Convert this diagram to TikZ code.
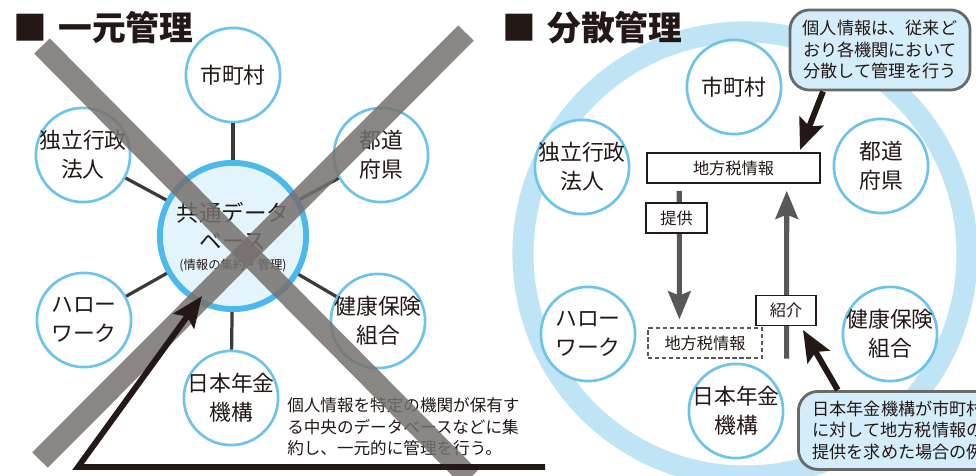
\documentclass[tikz,border=0pt]{standalone}
\usepackage{fontspec}
\setmainfont{Noto Sans CJK JP}
\usetikzlibrary{calc,positioning,arrows.meta}

\definecolor{inkblack}{RGB}{35,24,21}
\definecolor{ringblue}{RGB}{190,228,246}
\definecolor{edgeblue}{RGB}{108,195,236}
\definecolor{dbblue}{RGB}{75,185,235}
\definecolor{dbfill}{RGB}{228,244,252}
\definecolor{notefill}{RGB}{212,237,250}
\definecolor{notegray}{RGB}{105,105,105}
\definecolor{linkgray}{RGB}{58,58,58}
\definecolor{flowgray}{RGB}{88,88,88}
\definecolor{crossgray}{RGB}{118,113,110}

\begin{document}
\begin{tikzpicture}[x=0.025cm,y=-0.025cm,
	org/.style={circle,draw=edgeblue,line width=1.9pt,fill=white,minimum size=67pt,inner sep=0pt},
	orgtext/.style={align=center,inner sep=0pt,text=inkblack,font=\fontsize{15.5}{20.5}\selectfont},
	title/.style={anchor=west,inner sep=0pt,text=inkblack,font=\fontsize{24}{24}\selectfont\bfseries},
	link/.style={draw=linkgray,line width=2.3pt},
	cross/.style={draw=crossgray,line width=15.5pt,opacity=0.85},
	tagbox/.style={draw=inkblack,line width=1.1pt,fill=white,inner sep=0pt,minimum height=21.3pt,text=inkblack,font=\fontsize{11.5}{14}\selectfont},
	note/.style={draw=notegray,line width=2pt,fill=notefill,rounded corners=14pt,text=inkblack,font=\fontsize{12.2}{15.3}\selectfont},
	flow/.style={draw=flowgray,line width=3.6pt,-{Stealth[length=20pt,width=16pt,inset=3pt]}},
	pointer/.style={draw=inkblack,line width=4.2pt,line join=miter,-{Stealth[length=22pt,width=18pt,inset=4pt]}}]
	\useasboundingbox (0,0) rectangle (976,475);
	\clip (0,0) rectangle (976,475);

	% ----- left: one central database
	\node[title] (ltitle) at (13,28) {■\hspace{8pt}一元管理};
	\node[circle,draw=dbblue,line width=4.2pt,fill=dbfill,minimum size=104pt] (db) at (233,236) {};
	\foreach \nm/\px/\py/\txt in {shi/233/75/市町村, dok/83/155/{独立行政\\法人}, tdf/381/155/{都道\\府県},
		hlw/84/320/{ハロー\\ワーク}, kkh/378/321/{健康保険\\組合}, nnk/231/398/{日本年金\\機構}} {
		\node[org] (l\nm) at (\px,\py) {};
		\node[orgtext] (l\nm-t) at (l\nm) {\txt};
		\draw[link] (db) -- (l\nm);
	}
	\node[orgtext,font=\fontsize{16}{20}\selectfont] (db-t) at (233,226) {共通データ\\ベース};
	\node[orgtext,font=\fontsize{8.8}{10}\selectfont] (db-s) at (233,265) {(情報の集約・管理)};
	\node[anchor=west,align=left,inner sep=0pt,text=inkblack,font=\fontsize{11.8}{15.3}\selectfont] (lnote) at (287,427)
		{個人情報を特定の機関が保有す\\る中央のデータベースなどに集\\約し、一元的に管理を行う。};
	% big cross over the whole scheme
	\draw[cross] (42,46) -- (470,478);
	\draw[cross] (466,33) -- (40,460);
	\coordinate (corner) at (78,467);
	\coordinate (baseend) at (545,467);
	\coordinate (dbtip) at (202,296);
	\draw[pointer] (baseend) -- (corner) -- (dbtip);

	% ----- right: spread over the bodies
	\draw[draw=ringblue,line width=15pt] (745,254) circle (157.9pt);
	\node[title] (rtitle) at (502,28) {■\hspace{8pt}分散管理};
	\foreach \nm/\px/\py/\txt in {shi/734/87/市町村, dok/582/167/{独立行政\\法人}, tdf/881/166/{都道\\府県},
		hlw/588/334/{ハロー\\ワーク}, kkh/890/334/{健康保険\\組合}, nnk/736/411/{日本年金\\機構}} {
		\node[org] (r\nm) at (\px,\py) {};
		\node[orgtext] (r\nm-t) at (r\nm) {\txt};
	}
	\node[tagbox,minimum width=123pt] (info) at (733.5,168) {地方税情報};
	\node[tagbox,draw=flowgray,line width=0.9pt,densely dashed,minimum width=81pt] (infolow) at (705,343) {地方税情報};
	\draw[flow] ($(info.south west)+(33,7)$) -- ($(infolow.north west)+(32,-8)$);
	\draw[flow] ($(infolow.south east)+(24,0)$) -- ($(info.south east)+(-34,7)$);
	\node[tagbox,minimum width=43.4pt] (teikyo) at (676.5,218) {提供};
	\node[tagbox,minimum width=42.7pt] (shokai) at (786,310.5) {紹介};

	\node[note,align=center,minimum width=128pt,minimum height=57pt] (notetop) at (880,50)
		{個人情報は、従来ど\\おり各機関において\\分散して管理を行う};
	\node[note,anchor=north west,align=left,inner xsep=10pt,minimum height=55.5pt] (notebot) at (797,390)
		{日本年金機構が市町村\\に対して地方税情報の\\提供を求めた場合の例};
	\coordinate (tiptop) at (800,150);
	\coordinate (tipbot) at (803,330);
	\draw[pointer] ([xshift=-40.5pt]notetop.south) -- (tiptop);
	\draw[pointer] ([xshift=29pt]notebot.north west) -- (tipbot);
\end{tikzpicture}
\end{document}
